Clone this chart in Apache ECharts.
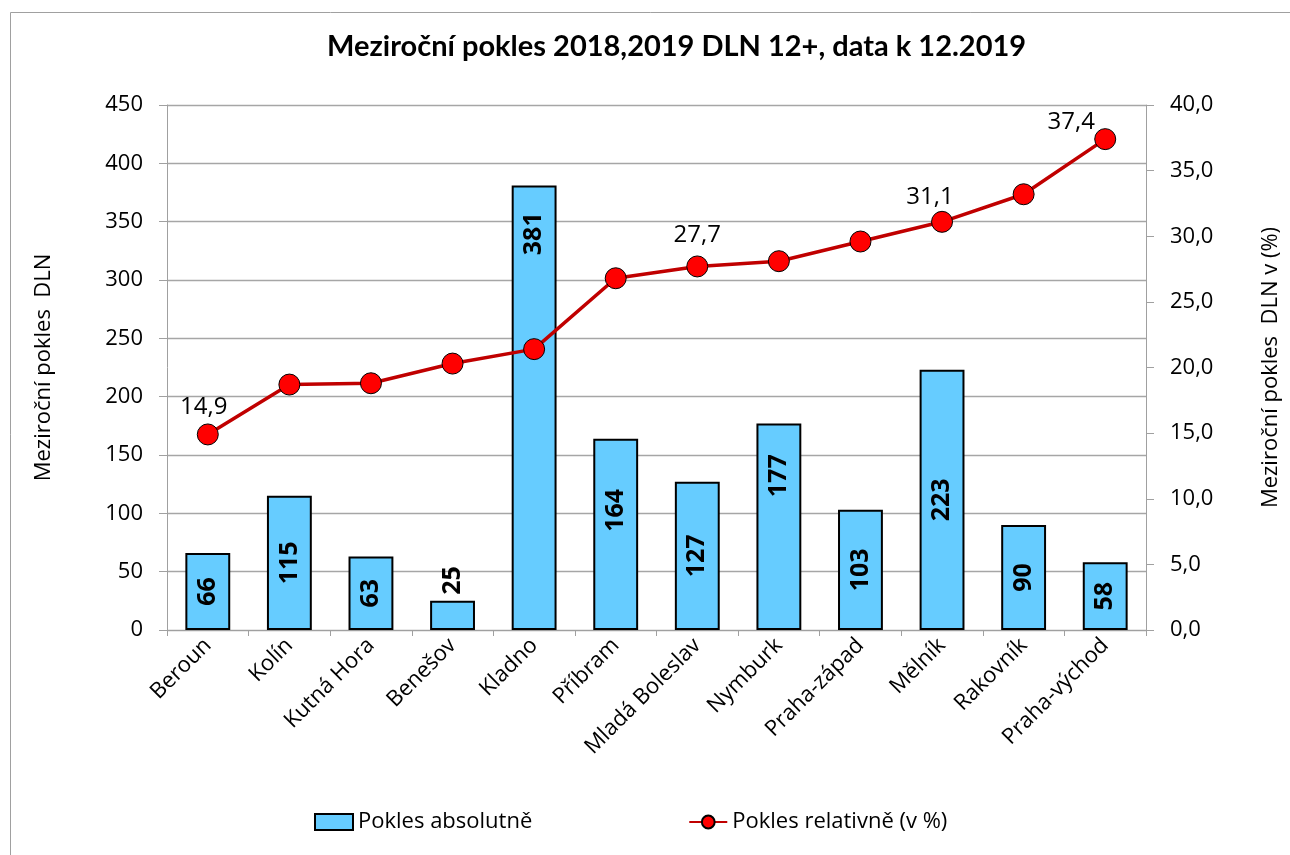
<!DOCTYPE html>
<html>
<head>
<meta charset="utf-8">
<script src="https://cdn.jsdelivr.net/npm/echarts@6/dist/echarts.min.js"></script>
<style>
html,body{margin:0;padding:0;background:#fff;}
#chart{width:1290px;height:855px;}
</style>
</head>
<body>
<div id="chart"></div>
<script>
var categories = ['Beroun','Kolín','Kutná Hora','Benešov','Kladno','Příbram','Mladá Boleslav','Nymburk','Praha-západ','Mělník','Rakovník','Praha-východ'];
var absoluteValues = [66,115,63,25,381,164,127,177,103,223,90,58];
var relativeValues = [14.9,18.7,18.8,20.3,21.4,26.8,27.7,28.1,29.6,31.1,33.2,37.4];
var relativeLabelShown = [true,false,false,false,false,false,true,false,false,true,false,true];
var leftTicks = {min:0, max:450, interval:50};
var rightTicks = {min:0, max:40, interval:5};

var FONT = '"Open Sans", "Noto Sans", sans-serif';
function comma1(v){ return v.toFixed(1).replace('.', ','); }

// label placement tweaks (styles, not data); rotated labels: local x points up
var barLabelPos = {3:'top'};
var barLabelOffset = {4:[174,0], 7:[51,0], 5:[24,0]};

var barData = absoluteValues.map(function(v,i){
  var pos = barLabelPos[i] || 'inside';
  var item = {value:v, label:{position:pos}};
  if (barLabelOffset[i]) item.label.offset = barLabelOffset[i];
  if (pos === 'top') { item.label.align = 'left'; item.label.verticalAlign='middle'; item.label.distance = 6; }
  return item;
});
var lineLabelOffset = {0:[-4,4], 6:[0,0], 9:[-12,6], 11:[-34,14]};
var lineData = relativeValues.map(function(v,i){
  return {value:v, label:{show:relativeLabelShown[i], offset: lineLabelOffset[i] || [0,0]}};
});

var chart = echarts.init(document.getElementById('chart'), null, {renderer:'canvas'});
chart.setOption({
  backgroundColor:'#fff',
  animation:false,
  textStyle:{fontFamily:FONT, color:'#000'},
  graphic:[{type:'rect', left:8, top:10, shape:{width:1300, height:900}, style:{fill:'none', stroke:'#a0a0a0', lineWidth:1}, z:-10}],
  title:{
    text:'Meziroční pokles 2018,2019 DLN 12+, data k 12.2019',
    left:322, top:27,
    textStyle:{fontFamily:'Lato', fontWeight:'bold', fontSize:29, color:'#000'}
  },
  legend:{
    bottom:17, left:309, itemGap:156, itemWidth:38, itemHeight:16,
    textStyle:{fontFamily:FONT, fontSize:22, color:'#000'},
    data:[
      {name:'Pokles absolutně', icon:'rect'},
      {name:'Pokles relativně (v %)'}
    ]
  },
  grid:{left:167, right:129, top:105, bottom:225, containLabel:false},
  xAxis:{
    type:'category', data:categories, boundaryGap:true,
    axisLine:{lineStyle:{color:'#a0a0a0', width:1}},
    axisTick:{show:true, alignWithLabel:false, length:6, lineStyle:{color:'#a0a0a0'}},
    axisLabel:{rotate:45, interval:0, fontSize:22, color:'#000', margin:12, fontFamily:FONT}
  },
  yAxis:[{
    type:'value', min:leftTicks.min, max:leftTicks.max, interval:leftTicks.interval,
    name:'Meziroční pokles  DLN', nameLocation:'middle', nameGap:112, nameRotate:90,
    nameTextStyle:{fontSize:22, color:'#000', fontFamily:FONT},
    axisLine:{show:true, lineStyle:{color:'#a0a0a0'}},
    axisTick:{show:true, length:8, lineStyle:{color:'#a0a0a0'}},
    axisLabel:{fontSize:22, color:'#000', margin:24, fontFamily:FONT},
    splitLine:{show:true, lineStyle:{color:'#a6a6a6', width:1.3}}
  },{
    type:'value', min:rightTicks.min, max:rightTicks.max, interval:rightTicks.interval,
    name:'Meziroční pokles  DLN v (%)', nameLocation:'middle', nameGap:114, nameRotate:90,
    nameTextStyle:{fontSize:22, color:'#000', fontFamily:FONT},
    axisLine:{show:true, lineStyle:{color:'#a0a0a0'}},
    axisTick:{show:true, length:8, lineStyle:{color:'#a0a0a0'}},
    axisLabel:{fontSize:22, color:'#000', margin:24, fontFamily:FONT, formatter:function(v){return comma1(v);}},
    splitLine:{show:false}
  }],
  series:[{
    name:'Pokles absolutně', type:'bar', yAxisIndex:0, data:barData,
    barWidth:'55%',
    itemStyle:{color:'#66CCFF', borderColor:'#000', borderWidth:2},
    label:{show:true, rotate:90, fontSize:25, fontWeight:'bold', color:'#000', fontFamily:FONT}
  },{
    name:'Pokles relativně (v %)', type:'line', yAxisIndex:1, data:lineData,
    symbol:'circle', symbolSize:21,
    lineStyle:{color:'#C00000', width:3.5},
    itemStyle:{color:'#FF0000', borderColor:'#000', borderWidth:1},
    label:{show:false, position:'top', distance:8, fontSize:24, color:'#000', fontFamily:FONT,
      formatter:function(p){return comma1(p.value);}}
  }]
});
</script>
</body>
</html>
